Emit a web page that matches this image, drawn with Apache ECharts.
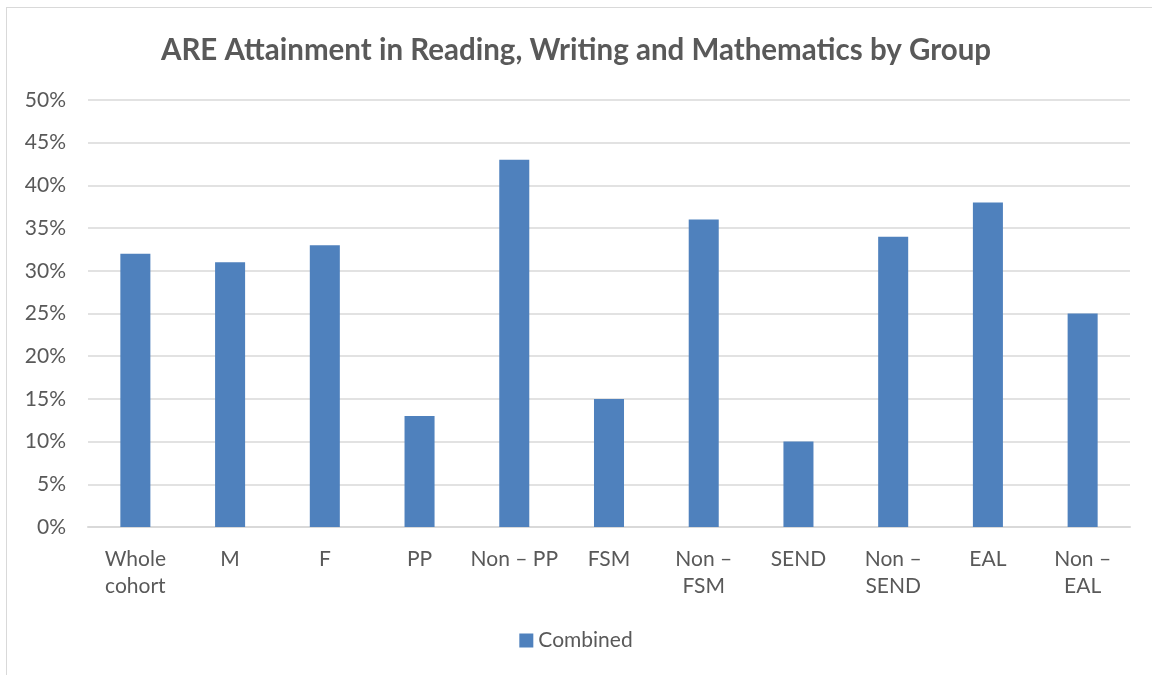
<!DOCTYPE html>
<html>
<head>
<meta charset="utf-8">
<script src="https://cdn.jsdelivr.net/npm/echarts@6/dist/echarts.min.js"></script>
<style>
html,body{margin:0;padding:0;background:#fff;}
#frame{position:absolute;left:6px;top:7px;width:1150px;height:670px;border-left:1px solid #d9d9d9;border-top:1px solid #d9d9d9;box-sizing:border-box;}
#chart{position:absolute;left:0;top:0;width:1152px;height:675px;}
</style>
</head>
<body>
<div id="frame"></div>
<div id="chart"></div>
<script>
const categories = ["Whole cohort", "M", "F", "PP", "Non – PP", "FSM", "Non – FSM", "SEND", "Non – SEND", "EAL", "Non – EAL"];
const tickLabels = ["Whole\ncohort", "M", "F", "PP", "Non – PP", "FSM", "Non –\nFSM", "SEND", "Non –\nSEND", "EAL", "Non –\nEAL"];
const combined = [32, 31, 33, 13, 43, 15, 36, 10, 34, 38, 25];
const seriesName = "Combined";
const titleText = "ARE Attainment in Reading, Writing and Mathematics by Group";

const font = "Lato, 'Open Sans', sans-serif";
const chart = echarts.init(document.getElementById('chart'));
chart.setOption({
  animation: false,
  textStyle: {fontFamily: font},
  title: {
    text: titleText, left: 'center', top: 30,
    textStyle: {fontFamily: font, fontSize: 29.5, fontWeight: 'bold', color: '#595959'}
  },
  legend: {
    data: [seriesName], bottom: 19, left: 'center', icon: 'rect',
    itemWidth: 14, itemHeight: 14, itemGap: 6,
    textStyle: {fontFamily: font, fontSize: 21, color: '#595959'}
  },
  grid: {left: 88, right: 22, top: 100, bottom: 148, containLabel: false},
  xAxis: {
    type: 'category', data: categories,
    axisLine: {lineStyle: {color: '#d9d9d9', width: 2}},
    axisTick: {show: false},
    axisLabel: {
      interval: 0, margin: 19, lineHeight: 27,
      fontFamily: font, fontSize: 21, color: '#595959',
      formatter: (v, i) => tickLabels[i]
    }
  },
  yAxis: {
    type: 'value', min: 0, max: 50, interval: 5,
    axisLine: {show: false}, axisTick: {show: false},
    splitLine: {lineStyle: {color: '#d9d9d9', width: 1.5}},
    axisLabel: {margin: 22, fontFamily: font, fontSize: 21, color: '#595959', formatter: '{value}%'}
  },
  series: [{
    name: seriesName, type: 'bar', data: combined, barWidth: '31.7%',
    itemStyle: {color: '#4f81bd'}
  }]
});
</script>
</body>
</html>
